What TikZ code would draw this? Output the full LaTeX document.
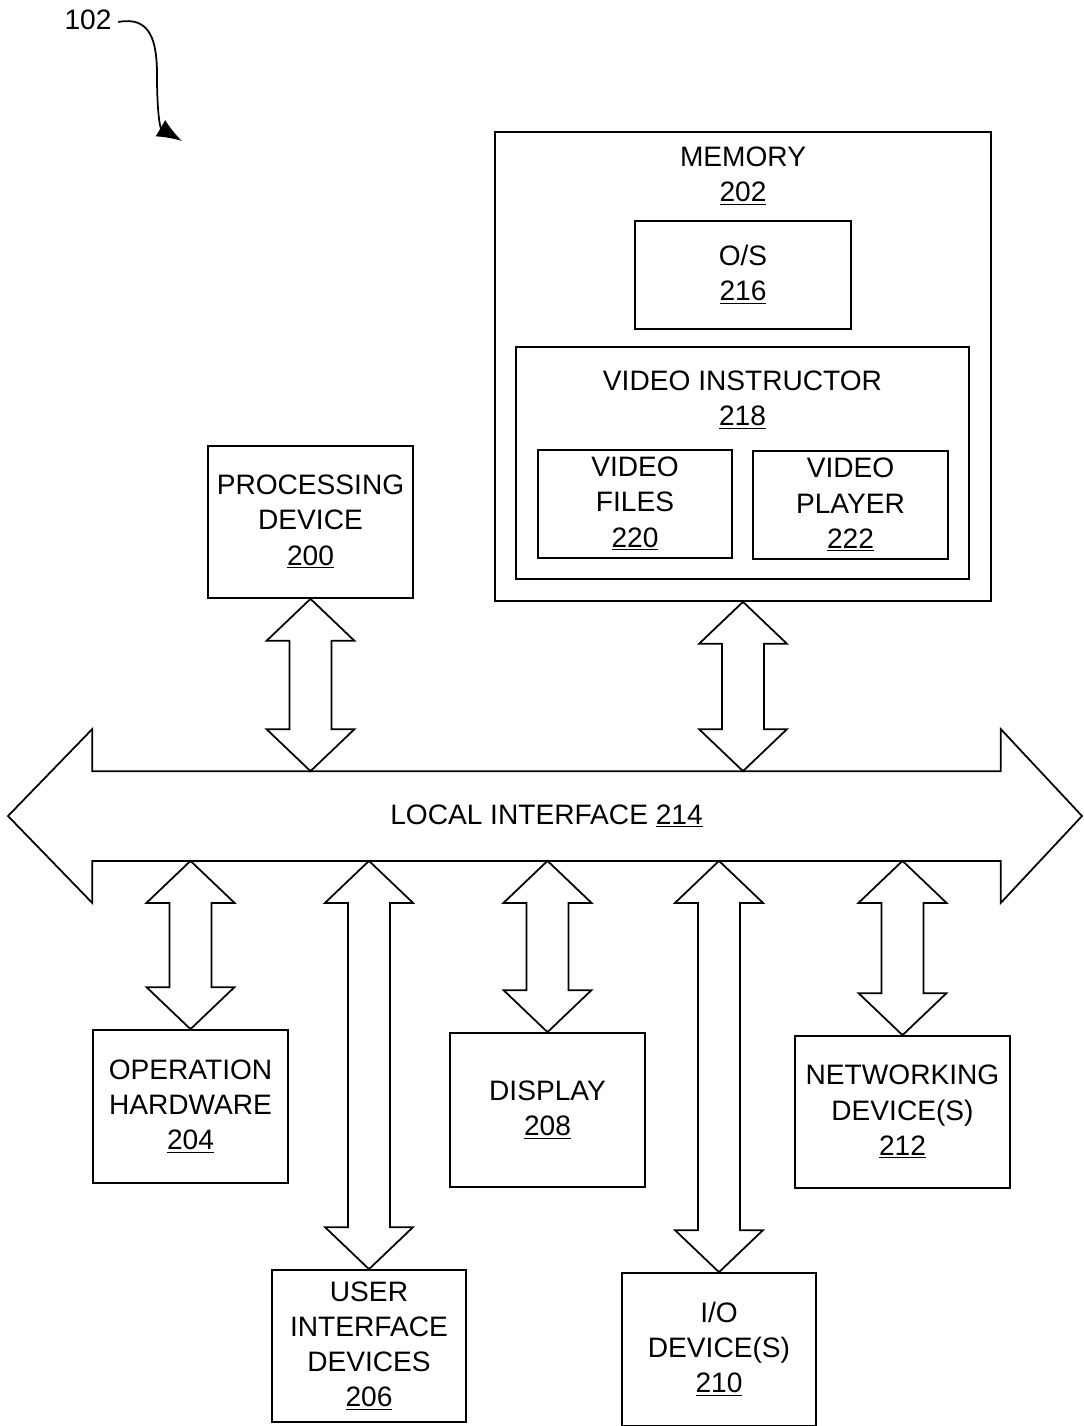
\documentclass[tikz,border=0pt]{standalone}
\usepackage{fontspec}
\setmainfont{Liberation Sans}
\usetikzlibrary{calc,arrows.meta}

\begin{document}
\begin{tikzpicture}
      [x=0.02cm,y=-0.02cm,line width=1pt,
      font=\fontsize{16}{20}\selectfont,
      box/.style={draw,rectangle,align=center,inner sep=0pt},
      txt/.style={align=center,inner sep=0pt},
      bidir/.style={draw,line join=miter,to path={(\tikztostart) -- ++(-44,42) -- ++(23,0)
        -- ($(\tikztotarget)+(-21,-42)$) -- ++(-23,0) -- (\tikztotarget) -- ++(44,-42)
        -- ++(-23,0) -- ($(\tikztostart)+(21,42)$) -- ++(23,0) -- cycle}}]
      \useasboundingbox (0,0) rectangle (1083,1426);
      % figure reference
      \node[txt] (fig) at (88,20) {102};
      \draw[-{Latex[length=0.5cm,width=0.38cm]}] ($(fig.east)+(6,2)$) .. controls (150,16) and (157,40) .. (157,75)
        .. controls (157,112) and (160,128) .. (182,141);
      % memory
      \node[box,minimum width=9.92cm,minimum height=9.38cm] (mem) at (743,366.5) {};
      \node[txt] (memlbl) at (743,176) {MEMORY\\\underline{202}};
      \node[box,minimum width=4.32cm,minimum height=2.16cm] (os) at (743,275) {O/S\\\underline{216}};
      \node[box,minimum width=9.06cm,minimum height=4.64cm] (vi) at (742.5,463) {};
      \node[txt] (vilbl) at (742.5,400) {VIDEO INSTRUCTOR\\\underline{218}};
      \node[box,minimum width=3.88cm,minimum height=2.16cm] (vfiles) at (635,504) {VIDEO\\FILES\\\underline{220}};
      \node[box,minimum width=3.9cm,minimum height=2.16cm] (vplayer) at (850.5,505) {VIDEO\\PLAYER\\\underline{222}};
      % processing
      \node[box,minimum width=4.1cm,minimum height=3.04cm] (proc) at (310.5,522) {PROCESSING\\DEVICE\\\underline{200}};
      % local interface
      \node[txt,minimum width=18.14cm,minimum height=1.76cm] (bus) at (546.5,816) {LOCAL INTERFACE \underline{214}};
      \draw[line join=miter] (bus.north west) -- (bus.north east) -- ++(0,-42) -- (1082,816)
        -- ($(bus.south east)+(0,42)$) -- (bus.south east) -- (bus.south west)
        -- ++(0,42) -- (8,816) -- ($(bus.north west)+(0,-42)$) -- cycle;
      % devices
      \node[box,minimum width=3.9cm,minimum height=3.06cm] (ophw) at (190.5,1106.5) {OPERATION\\HARDWARE\\\underline{204}};
      \node[box,minimum width=3.88cm,minimum height=3.04cm] (ui) at (369,1346) {USER\\INTERFACE\\DEVICES\\\underline{206}};
      \node[box,minimum width=3.9cm,minimum height=3.08cm] (disp) at (547.5,1110) {DISPLAY\\\underline{208}};
      \node[box,minimum width=3.88cm,minimum height=3.06cm] (io) at (719,1349.5) {I/O\\DEVICE(S)\\\underline{210}};
      \node[box,minimum width=4.3cm,minimum height=3.04cm] (net) at (902.5,1112) {NETWORKING\\DEVICE(S)\\\underline{212}};
      % connections
      \path (proc.south) edge[bidir] (proc.south |- bus.north);
      \path (mem.south) edge[bidir] (mem.south |- bus.north);
      \path (ophw.north |- bus.south) edge[bidir] (ophw.north);
      \path (ui.north |- bus.south) edge[bidir] (ui.north);
      \path (disp.north |- bus.south) edge[bidir] (disp.north);
      \path (io.north |- bus.south) edge[bidir] (io.north);
      \path (net.north |- bus.south) edge[bidir] (net.north);
    \end{tikzpicture}
\end{document}
